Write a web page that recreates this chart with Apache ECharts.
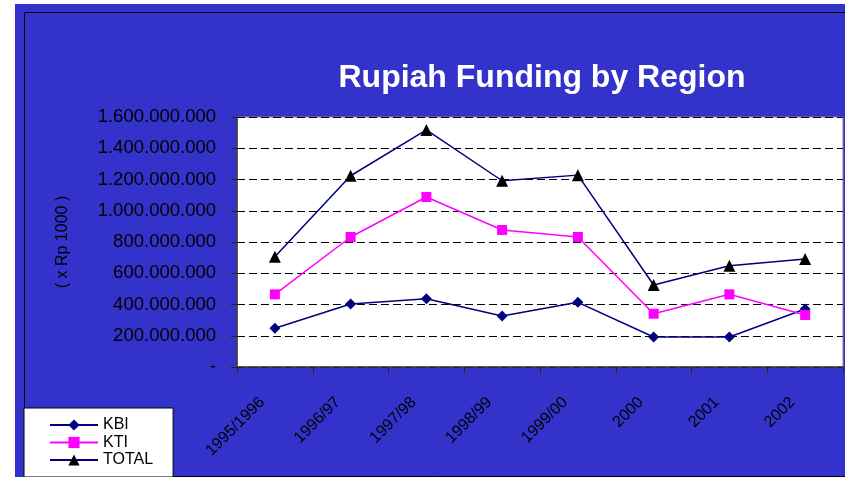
<!DOCTYPE html>
<html>
<head>
<meta charset="utf-8">
<script src="https://cdn.jsdelivr.net/npm/echarts@6/dist/echarts.min.js"></script>
<style>
  html, body { margin: 0; padding: 0; background: #fff; }
  #chart { width: 845px; height: 477px; }
</style>
</head>
<body>
<div id="chart"></div>
<script>
  // data (x Rp 1000)
  const years = ['1995/1996', '1996/97', '1997/98', '1998/99', '1999/00', '2000', '2001', '2002'];
  const kbi = [248000000, 403000000, 437000000, 326000000, 414000000, 192000000, 192000000, 371000000];
  const kti = [465000000, 832000000, 1088000000, 877000000, 832000000, 341000000, 465000000, 333000000];
  const total = [706000000, 1224000000, 1517000000, 1192000000, 1228000000, 525000000, 648000000, 691000000];

  const fmt = (v) => {
    if (v === 0) return '-';
    return String(v).replace(/\B(?=(\d{3})+(?!\d))/g, '.');
  };

  const myChart = echarts.init(document.getElementById('chart'));
  myChart.setOption({
    backgroundColor: '#fff',
    animation: false,
    graphic: [
      {
        type: 'rect',
        z: -10,
        shape: { x: 15, y: 4, width: 840, height: 480 },
        style: { fill: '#3333CC' }
      },
      {
        type: 'rect',
        z: -9,
        shape: { x: 24.5, y: 12.5, width: 840, height: 464 },
        style: { fill: null, stroke: '#000', lineWidth: 1 }
      }
    ],
    title: {
      text: 'Rupiah Funding by Region',
      left: 537,
      textAlign: 'center',
      top: 57,
      textStyle: {
        color: '#fff',
        fontFamily: 'Liberation Sans, Arial',
        fontWeight: 'bold',
        fontSize: 32
      }
    },
    legend: {
      orient: 'vertical',
      left: 24,
      top: 408,
      height: 120,
      padding: [9, 20, 9, 25],
      backgroundColor: '#fff',
      borderColor: '#000',
      borderWidth: 1,
      itemWidth: 48,
      itemHeight: 14,
      itemGap: 1.5,
      data: ['KBI', 'KTI', 'TOTAL'],
      textStyle: {
        color: '#000',
        fontFamily: 'Liberation Sans, Arial',
        fontSize: 16
      }
    },
    grid: {
      left: 237,
      right: 2,
      top: 117,
      bottom: 110,
      show: true,
      backgroundColor: '#fff',
      borderColor: '#888',
      borderWidth: 1
    },
    xAxis: {
      type: 'category',
      data: years,
      boundaryGap: true,
      axisLine: { lineStyle: { color: '#333', width: 1.5 } },
      axisTick: { show: true, alignWithLabel: false, length: 6, lineStyle: { color: '#222' } },
      axisLabel: {
        rotate: 45,
        margin: 20,
        padding: [0, 18, 0, 0],
        color: '#000',
        fontFamily: 'Liberation Sans, Arial',
        fontSize: 16,
        interval: 0
      }
    },
    yAxis: {
      type: 'value',
      min: 0,
      max: 1600000000,
      interval: 200000000,
      name: '( x Rp 1000 )',
      nameLocation: 'middle',
      nameGap: 166,
      nameTextStyle: {
        color: '#000',
        fontFamily: 'Liberation Sans, Arial',
        fontSize: 16
      },
      axisLine: { show: true, lineStyle: { color: '#333', width: 1.5 } },
      axisTick: { show: true, length: 6, lineStyle: { color: '#222' } },
      axisLabel: {
        margin: 21,
        color: '#000',
        fontFamily: 'Liberation Sans, Arial',
        fontSize: 18.5,
        formatter: fmt
      },
      splitLine: { lineStyle: { color: '#000', type: [8, 4], width: 1 } }
    },
    series: [
      {
        name: 'KBI',
        type: 'line',
        data: kbi,
        symbol: 'diamond',
        symbolSize: 11,
        itemStyle: { color: '#000080' },
        lineStyle: { color: '#000080', width: 1.5 }
      },
      {
        name: 'KTI',
        type: 'line',
        data: kti,
        symbol: 'rect',
        symbolSize: 10,
        itemStyle: { color: '#FF00FF' },
        lineStyle: { color: '#FF00FF', width: 1.5 }
      },
      {
        name: 'TOTAL',
        type: 'line',
        data: total,
        symbol: 'triangle',
        symbolSize: 12,
        itemStyle: { color: '#000' },
        lineStyle: { color: '#000080', width: 1.5 }
      }
    ]
  });
</script>
</body>
</html>
